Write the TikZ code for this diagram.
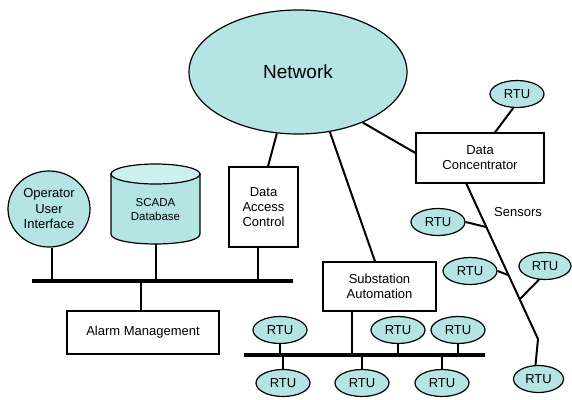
\documentclass[tikz,border=0pt]{standalone}
\usepackage{fontspec}
\setmainfont{Liberation Sans}
\usetikzlibrary{shapes.geometric,calc}
\definecolor{tealA}{RGB}{180,228,228}
\definecolor{tealB}{RGB}{206,239,239}
\begin{document}
\begin{tikzpicture}[x=1pt,y=-1pt,
  shp/.style={draw,line width=1.2pt},
  rtu/.style={shp,ellipse,fill=tealA,minimum width=54pt,minimum height=27pt,inner sep=0pt,font=\fontsize{13}{15}\selectfont},
  box/.style={shp,rectangle,fill=white,inner sep=0pt,align=center,font=\fontsize{13}{15}\selectfont},
  conn/.style={line width=2pt},
  bus/.style={line width=4pt},
  lbl/.style={inner sep=0pt,align=center,font=\fontsize{13}{15.5}\selectfont}]
\useasboundingbox (0,0) rectangle (572,399);

% Network
\node[shp,ellipse,fill=tealA,minimum width=218pt,minimum height=124pt,inner sep=0pt,font=\fontsize{19}{22}\selectfont] (net) at (298,72) {Network};

% Boxes
\node[box,minimum width=69pt,minimum height=80pt] (dac) at (263.5,207) {Data\\Access\\Control};
\node[box,minimum width=128pt,minimum height=50pt] (dc) at (480,158) {Data\\Concentrator};
\node[box,minimum width=113pt,minimum height=49pt] (sa) at (379.5,286.5) {Substation\\Automation};
\node[box,minimum width=152pt,minimum height=43pt] (alarm) at (143,332.5) {Alarm Management};

% Operator
\node[shp,ellipse,fill=tealA,minimum width=82pt,minimum height=76pt,inner sep=0pt,align=center,font=\fontsize{13}{15.5}\selectfont] (op) at (49,209) {Operator\\User\\Interface};

% Database cylinder
\path[shp,fill=tealA] (111,174) -- (111,234) .. controls (111,247.3) and (200,247.3) .. (200,234) -- (200,174) -- cycle;
\draw[shp,fill=tealB] (155.5,174) ellipse [x radius=44.5, y radius=10];
\node[inner sep=0pt,align=center,font=\fontsize{11.5}{14}\selectfont] (db) at (155.5,210) {SCADA\\Database};
\coordinate (dbbot) at (155.5,244);

% RTUs
\node[rtu] (rtuA) at (517,94) {RTU};
\node[rtu] (rtuB) at (438,222) {RTU};
\node[rtu] (rtuC) at (470,271) {RTU};
\node[rtu,minimum width=52pt] (rtuD) at (545,266) {RTU};
\node[rtu,minimum width=50pt] (rtuE) at (538.5,379) {RTU};
\node[rtu] (b1) at (280,330) {RTU};
\node[rtu] (b2) at (398,330) {RTU};
\node[rtu] (b3) at (458,330) {RTU};
\node[rtu] (c1) at (283,383) {RTU};
\node[rtu] (c2) at (362,383) {RTU};
\node[rtu] (c3) at (442,383) {RTU};

\node[lbl] (sens) at (518,212) {Sensors};

% Buses
\coordinate (lbA) at (32,281);
\coordinate (lbB) at (293,281);
\coordinate (bbA) at (244,355);
\coordinate (bbB) at (485,355);
\draw[bus] (lbA) -- (lbB);
\draw[bus] (bbA) -- (bbB);

% Network links
\draw[conn] (net.251) -- ([xshift=4.5pt]dac.north);
\draw[conn] (net.298) -- ([xshift=-4.5pt]sa.north);
\draw[conn] (net.322) -- ([yshift=5pt]dc.west);
\draw[conn] (rtuA.255) -- ([xshift=15pt]dc.north);

% Sensor line
\coordinate (s0) at (466,183);
\coordinate (s1) at (538,339);
\coordinate (jB) at (486,227);
\coordinate (jC) at (508,275);
\coordinate (jD) at (520,299);
\draw[conn] (s0) -- (s1) -- ([xshift=-3pt]rtuE.north);
\draw[conn] (rtuB.east) -- (jB);
\draw[conn] (rtuC.east) -- (jC);
\draw[conn] (rtuD.246) -- (jD);

% Left bus links
\draw[conn] ([xshift=3pt]op.south) -- ([xshift=3pt]op.south |- lbA);
\draw[conn] (dbbot) -- (dbbot |- lbA);
\draw[conn] ([xshift=-5.5pt]dac.south) -- ([xshift=-5.5pt]dac.south |- lbA);
\draw[conn] ([xshift=-2pt]alarm.north |- lbA) -- ([xshift=-2pt]alarm.north);

% Bottom bus links
\draw[conn] ([xshift=-27.5pt]sa.south) -- ([xshift=-27.5pt]sa.south |- bbA);
\draw[conn] (b1.south) -- (b1.south |- bbA);
\draw[conn] (b2.south) -- (b2.south |- bbA);
\draw[conn] (b3.south) -- (b3.south |- bbA);
\draw[conn] (c1.north |- bbA) -- (c1.north);
\draw[conn] (c2.north |- bbA) -- (c2.north);
\draw[conn] (c3.north |- bbA) -- (c3.north);
\end{tikzpicture}
\end{document}
